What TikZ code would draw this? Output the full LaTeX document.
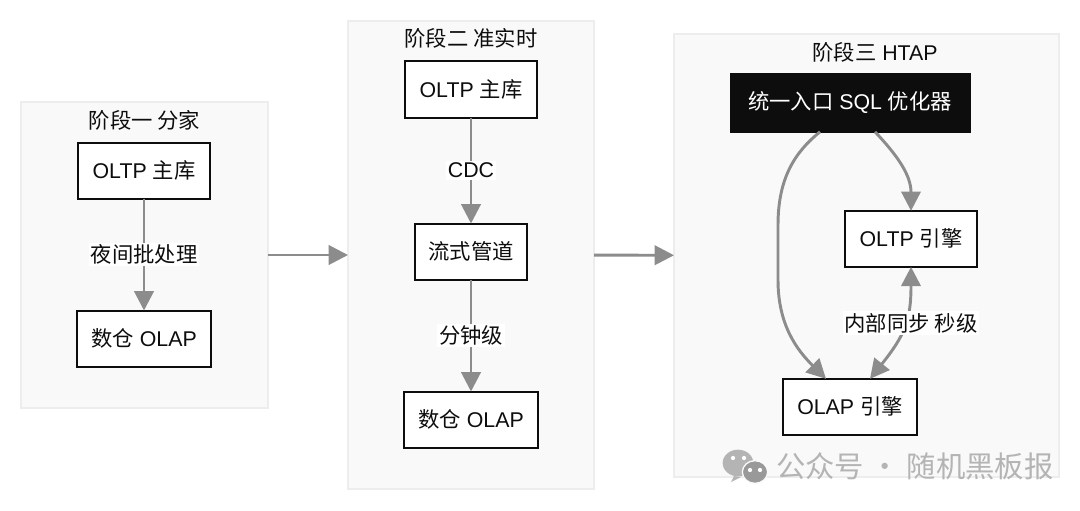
\documentclass[tikz,border=0pt]{standalone}
\usepackage{fontspec}
\setmainfont{Liberation Sans}
\newfontfamily\cjk{Noto Sans CJK SC}
\newcommand{\zh}[1]{{\cjk #1}}
\usepackage{xcolor}
\usetikzlibrary{arrows.meta, positioning, calc}
\definecolor{framefill}{HTML}{F9F9F9}
\definecolor{frameline}{HTML}{EDEDED}
\definecolor{flowgray}{HTML}{8C8C8C}
\definecolor{markgray}{HTML}{B4B4B4}
\definecolor{inkblack}{HTML}{0D0D0D}

\begin{document}
\begin{tikzpicture}[
        x=0.75pt, y=-0.75pt,
        phase/.style={draw=frameline, fill=framefill, line width=1.2pt, rectangle, outer sep=0pt},
        phasetitle/.style={font=\fontsize{16}{19}\selectfont, inner sep=0pt, text=inkblack},
        dbbox/.style={draw=inkblack, fill=white, line width=1.5pt, rectangle, outer sep=0pt, minimum height=42pt, font=\fontsize{16}{19}\selectfont, text=inkblack},
        entrybox/.style={draw=inkblack, fill=inkblack, rectangle, outer sep=0pt, minimum width=180pt, minimum height=44pt, font=\fontsize{16}{19}\selectfont, text=white},
        flow/.style={-{Triangle[width=14.5pt,length=14.5pt]}, draw=flowgray, line width=2.2pt},
        bothflow/.style={{Triangle[width=14.5pt,length=14.5pt]}-{Triangle[width=14.5pt,length=14.5pt]}, draw=flowgray, line width=2.2pt},
        flowlabel/.style={fill=white, inner sep=1.5pt, font=\fontsize{16}{19}\selectfont, text=inkblack}
    ]
    \useasboundingbox (0,0) rectangle (1080,510);
    \fill[white] (0,0) rectangle (1080,510);

    % Phases
    \node[phase, minimum width=185pt, minimum height=229.5pt] (phaseone) at (144.5,255) {};
    \node[phase, minimum width=184.5pt, minimum height=351pt] (phasetwo) at (471,255) {};
    \node[phase, minimum width=288.75pt, minimum height=332.25pt] (phasethree) at (866.5,255.5) {};
    \node[phasetitle] (titleone) at (144.5,120) {\zh{阶段一 分家}};
    \node[phasetitle] (titletwo) at (471,38) {\zh{阶段二 准实时}};
    \node[phasetitle] (titlethree) at (875,52) {\zh{阶段三} HTAP};

    % Phase one
    \node[dbbox, minimum width=99pt] (onesource) at (144,170.5) {OLTP \zh{主库}};
    \node[dbbox, minimum width=101pt, below=84pt of onesource] (onewarehouse) {\zh{数仓} OLAP};

    % Phase two
    \node[dbbox, minimum width=99pt] (twosource) at (471,89.5) {OLTP \zh{主库}};
    \node[dbbox, minimum width=84.5pt, below=79.5pt of twosource] (twostream) {\zh{流式管道}};
    \node[dbbox, minimum width=101pt, below=84pt of twostream] (twowarehouse) {\zh{数仓} OLAP};

    % Phase three
    \node[entrybox] (sqlentry) at (850,102.5) {\zh{统一入口} SQL \zh{优化器}};
    \node[dbbox, minimum width=99pt, below=59.25pt of sqlentry, xshift=45.75pt] (oltpengine) {OLTP \zh{引擎}};
    \node[dbbox, minimum width=100.5pt, below=84pt of oltpengine, xshift=-45.75pt] (olapengine) {OLAP \zh{引擎}};

    % Arrows
    \draw[flow] (onesource) -- node[flowlabel] {\zh{夜间批处理}} (onewarehouse);
    \draw[flow] (twosource) -- node[flowlabel] {CDC} (twostream);
    \draw[flow] (twostream) -- node[flowlabel] {\zh{分钟级}} (twowarehouse);
    \draw[flow] (phaseone) -- (phasetwo);
    \draw[flow] (phasetwo) -- (phasethree);
    \draw[flow] ($(sqlentry.south)+(-30,0)$) .. controls (795,152) and (778,178) .. (778,225) -- (778,280) .. controls (778,325) and (797,350) .. ($(olapengine.north)+(-24,0)$);
    \draw[flow] ($(sqlentry.south)+(25,0)$) .. controls (897,155) and (911,175) .. (oltpengine.north);
    \draw[bothflow] (oltpengine.south) .. controls (911,320) and (905,335) .. ($(olapengine.north)+(20,0)$);
    \node[flowlabel] (synclabel) at (911,323) {\zh{内部同步 秒级}};

    % Watermark
    \fill[markgray] (738,463) ellipse (11.5pt and 10pt);
    \fill[markgray] (734,476) -- (731,482) -- (741,477) -- cycle;
    \draw[framefill, line width=1pt, fill=markgray!85!black] (755,472) ellipse (9.5pt and 8.5pt);
    \foreach \eyex/\eyey in {733/458, 744/458, 750/470, 760/470} {
        \fill[white] (\eyex,\eyey) circle (1.6pt);
    }
    \node[inner sep=0pt, text=markgray, font=\cjk\fontsize{22}{26}\selectfont, anchor=west] (markname) at (776,466) {公众号 · 随机黑板报};

\end{tikzpicture}
\end{document}
